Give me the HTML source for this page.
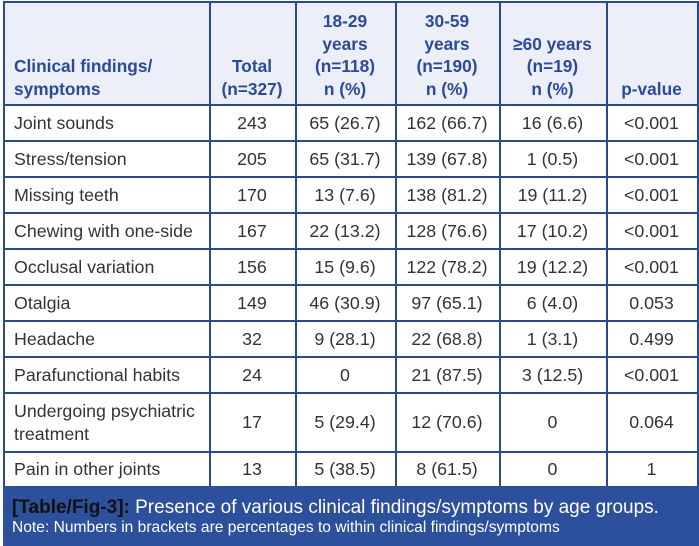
<!DOCTYPE html>
<html><head><style>
body{margin:0;width:699px;height:546px;background:#fff;overflow:hidden;position:relative;font-family:"Liberation Sans",Arial,sans-serif}
.h{position:absolute;left:3px;top:1px;width:695px;height:103px;background:#eceef8}
.vl{position:absolute;top:1px;height:485px;width:1.5px;background:#2b4a8e}
.hl{position:absolute;left:3px;width:695px;height:1.5px;background:#2b4a8e}
.c{position:absolute;font-size:17.8px;color:#333;display:flex;align-items:center;line-height:23px;white-space:nowrap}
.ct{justify-content:center;text-align:center}
.hd{position:absolute;font-size:17.3px;color:#2b4a9a;font-weight:bold;line-height:22.5px;display:flex;align-items:flex-end;justify-content:center;text-align:center;top:1px;height:99px}
.cap{position:absolute;left:3px;top:486px;width:696px;height:60px;background:#2c509c;color:#fff}
</style></head><body>
<div class="h"></div>
<div class="hl" style="top:1px"></div>
<div class="vl" style="left:3px"></div>
<div class="vl" style="left:209px"></div>
<div class="vl" style="left:295px"></div>
<div class="vl" style="left:395px"></div>
<div class="vl" style="left:499px"></div>
<div class="vl" style="left:606px"></div>
<div class="vl" style="left:697px"></div>
<div class="hl" style="top:104px"></div>
<div class="hl" style="top:140px"></div>
<div class="hl" style="top:176px"></div>
<div class="hl" style="top:212px"></div>
<div class="hl" style="top:248px"></div>
<div class="hl" style="top:284px"></div>
<div class="hl" style="top:320px"></div>
<div class="hl" style="top:356px"></div>
<div class="hl" style="top:392px"></div>
<div class="hl" style="top:451px"></div>

<div class="hd" style="left:14px;width:195px;justify-content:flex-start;text-align:left">Clinical findings/<br>symptoms</div>
<div class="hd" style="left:209px;width:86px">Total<br>(n=327)</div>
<div class="hd" style="left:295px;width:100px">18-29<br>years<br>(n=118)<br>n (%)</div>
<div class="hd" style="left:395px;width:104px">30-59<br>years<br>(n=190)<br>n (%)</div>
<div class="hd" style="left:499px;width:107px">≥60 years<br>(n=19)<br>n (%)</div>
<div class="hd" style="left:606px;width:91px">p-value</div>

<div id="rows"></div>
<script>
var d=[["Joint sounds","243","65 (26.7)","162 (66.7)","16 (6.6)","<0.001"],
["Stress/tension","205","65 (31.7)","139 (67.8)","1 (0.5)","<0.001"],
["Missing teeth","170","13 (7.6)","138 (81.2)","19 (11.2)","<0.001"],
["Chewing with one-side","167","22 (13.2)","128 (76.6)","17 (10.2)","<0.001"],
["Occlusal variation","156","15 (9.6)","122 (78.2)","19 (12.2)","<0.001"],
["Otalgia","149","46 (30.9)","97 (65.1)","6 (4.0)","0.053"],
["Headache","32","9 (28.1)","22 (68.8)","1 (3.1)","0.499"],
["Parafunctional habits","24","0","21 (87.5)","3 (12.5)","<0.001"],
["Undergoing psychiatric<br>treatment","17","5 (29.4)","12 (70.6)","0","0.064"],
["Pain in other joints","13","5 (38.5)","8 (61.5)","0","1"]];
var tops=[104,140,176,212,248,284,320,356,392,451,486];
var xs=[[14,195],[209,86],[295,100],[395,104],[499,107],[606,91]];
var h="";
d.forEach(function(r,i){var t=tops[i]+1,ht=tops[i+1]-tops[i];
r.forEach(function(v,j){h+='<div class="c'+(j?' ct':'')+'" style="left:'+xs[j][0]+'px;width:'+xs[j][1]+'px;top:'+t+'px;height:'+ht+'px">'+v.replace('<0','&lt;0')+'</div>';});});
document.getElementById("rows").innerHTML=h;
</script>
<div class="cap">
<div style="position:absolute;left:9px;top:11px;font-size:19px;white-space:nowrap"><b style="color:#111">[Table/Fig-3]:</b> Presence of various clinical findings/symptoms by age groups.</div>
<div style="position:absolute;left:9px;top:33px;font-size:15.6px;white-space:nowrap">Note: Numbers in brackets are percentages to within clinical findings/symptoms</div>
</div>
</body></html>
